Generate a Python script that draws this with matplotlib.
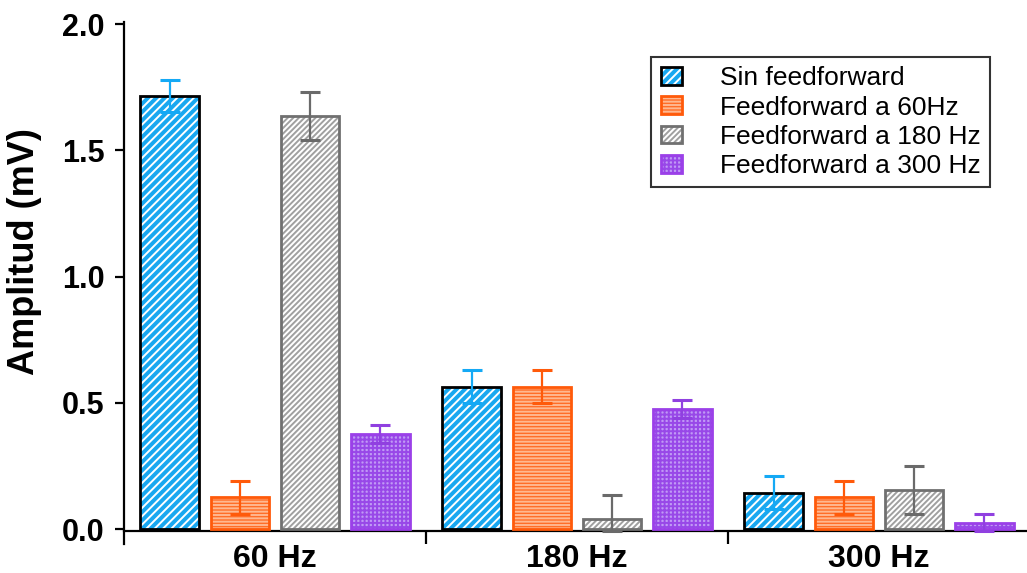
import matplotlib.pyplot as plt
from matplotlib.legend_handler import HandlerTuple
import numpy as np

plt.rcParams['font.family'] = ['Liberation Sans', 'DejaVu Sans']
plt.rcParams['hatch.linewidth'] = 1.4

groups = ['60 Hz', '180 Hz', '300 Hz']
series = ['Sin feedforward', 'Feedforward a 60Hz', 'Feedforward a 180 Hz', 'Feedforward a 300 Hz']

sin_ff = [1.715, 0.564, 0.144]
ff_60 = [0.125, 0.564, 0.125]
ff_180 = [1.636, 0.040, 0.154]
ff_300 = [0.376, 0.475, 0.025]

err_sin = [0.065, 0.065, 0.065]
err_60 = [0.065, 0.065, 0.065]
err_180 = [0.095, 0.095, 0.095]
err_300 = [0.035, 0.035, 0.035]

values = [sin_ff, ff_60, ff_180, ff_300]
errors = [err_sin, err_60, err_180, err_300]

# fill, hatch colour, hatch, edge, error bar colour
styles = [
    ('#19a8f0', 'white', '////', 'black', '#14a9f5'),
    ('#ff6e28', '#ffb890', '-----', '#ff5a0a', '#ff5a0a'),
    ('white', '#a0a0a0', '//////', '#707070', '#6a6a6a'),
    ('#c09af5', '#9848e8', '++++', '#9b40e8', '#9040e0'),
]

fig = plt.figure(figsize=(10.27, 5.73), dpi=100)
ax = fig.add_axes([124 / 1027, 29 / 573, 906 / 1027, 522 / 573])

x = np.arange(len(groups))
step = 0.232
width = 0.195
y_axis = -0.008

handles = []
for i, (vals, errs, st) in enumerate(zip(values, errors, styles)):
    face, hcol, hatch, edge, ecol = st
    pos = x + (i - 1.5) * step
    fill = ax.bar(pos, vals, width, color=face, edgecolor=hcol, hatch=hatch,
                  linewidth=0, zorder=2)
    outline = ax.bar(pos, vals, width, fill=False, edgecolor=edge,
                     linewidth=2, zorder=3)
    # lower whiskers stop at the x axis
    lower = [min(e, v - y_axis) for v, e in zip(vals, errs)]
    ax.errorbar(pos, vals, yerr=[lower, errs], fmt='none', ecolor=ecol,
                elinewidth=1.6, capsize=7, capthick=2.2, zorder=4)
    handles.append((fill, outline))

ax.set_xlim(-0.5, 2.5)
ax.set_ylim(-0.0594, 2.008)
ax.set_yticks([0.0, 0.5, 1.0, 1.5, 2.0])
ax.set_yticklabels(['0.0', '0.5', '1.0', '1.5', '2.0'])
ax.set_xticks(x)
ax.set_xticklabels(groups)
ax.set_xticks([0.5, 1.5], minor=True)

for side in ['top', 'right']:
    ax.spines[side].set_visible(False)
ax.spines['left'].set_linewidth(1.6)
ax.spines['bottom'].set_linewidth(1.6)
ax.spines['bottom'].set_position(('data', y_axis))

ax.tick_params(axis='y', direction='out', length=6.5, width=1.6, pad=7.5,
               labelsize=22)
ax.tick_params(axis='x', which='major', length=0, pad=9, labelsize=23)
ax.tick_params(axis='x', which='minor', direction='out', length=9.5, width=1.6)
for lab in ax.get_xticklabels() + ax.get_yticklabels():
    lab.set_fontweight('bold')

ax.set_ylabel('Amplitud (mV)', fontsize=26, fontweight='bold')
ax.yaxis.set_label_coords(-0.09, 0.56)

leg = ax.legend(handles, series, handler_map={tuple: HandlerTuple(ndivide=1, pad=0)},
                loc='upper right', bbox_to_anchor=(990 / 1027, 1 - 57 / 573),
                bbox_transform=fig.transFigure, fontsize=19, frameon=True,
                fancybox=False, edgecolor='black', handlelength=0.8,
                handleheight=0.65, handletextpad=1.45, labelspacing=0.2,
                borderpad=0.35, borderaxespad=0)
leg.get_frame().set_linewidth(1.5)

fig.savefig('out.png', dpi=100)
